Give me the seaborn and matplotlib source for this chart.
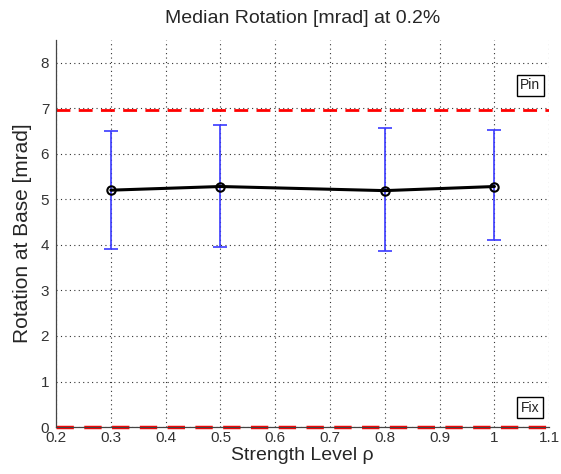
import matplotlib
matplotlib.use("Agg")
import matplotlib.pyplot as plt
import seaborn as sns
import pandas as pd

strength = [0.3, 0.5, 0.8, 1.0]
median_rot = [5.20, 5.28, 5.19, 5.28]
upper = [6.49, 6.64, 6.56, 6.51]
lower = [3.90, 3.95, 3.86, 4.10]
pin_level = 6.96
fix_level = 0.0
xticks = [0.2, 0.3, 0.4, 0.5, 0.6, 0.7, 0.8, 0.9, 1, 1.1]
xticklabels = ["0.2", "0.3", "0.4", "0.5", "0.6", "0.7", "0.8", "0.9", "1", "1.1"]
yticks = [0, 1, 2, 3, 4, 5, 6, 7, 8]

df = pd.DataFrame({"strength": strength, "median": median_rot})

sns.set_style("white")
plt.rcParams['font.family'] = ['Liberation Sans', 'DejaVu Sans']

fig = plt.figure(figsize=(5.61, 4.74), dpi=100)
ax = fig.add_axes([0.1, 0.099, 0.879, 0.817])

ax.axhline(pin_level, color="red", ls=(0, (5, 3)), lw=2, zorder=2)
ax.axhline(fix_level, color="red", ls=(0, (5, 3)), lw=2.5, zorder=2, clip_on=False)

yerr = [[m - l for m, l in zip(median_rot, lower)], [u - m for m, u in zip(median_rot, upper)]]
ax.errorbar(strength, median_rot, yerr=yerr, fmt="none", ecolor="#3a3aff", elinewidth=1.2,
            capsize=5, capthick=1.2, zorder=3)

sns.lineplot(data=df, x="strength", y="median", ax=ax, color="black", lw=2.2,
             marker="o", markersize=6, markerfacecolor="none", markeredgecolor="black",
             markeredgewidth=1.5, zorder=4)

ax.set_xlim(0.2, 1.1)
ax.set_ylim(0, 8.5)
ax.set_xticks(xticks)
ax.set_xticklabels(xticklabels)
ax.set_yticks(yticks)
ax.grid(True, ls=(0, (1, 3)), color="#333333", lw=0.8)
ax.tick_params(direction="in", length=4, labelsize=11, colors="#333333", pad=3)
ax.tick_params(axis="y", pad=5)
ax.spines["top"].set_visible(False)
ax.spines["right"].set_visible(False)
for s in ("left", "bottom"):
    ax.spines[s].set_color("#444444")
    ax.spines[s].set_linewidth(0.9)

ax.set_title("Median Rotation [mrad] at 0.2%", fontsize=14, pad=12)
ax.set_xlabel("Strength Level ρ", fontsize=14, labelpad=1)
ax.set_ylabel("Rotation at Base [mrad]", fontsize=15, labelpad=6)

box = dict(boxstyle="square,pad=0.25", fc="white", ec="black", lw=1)
ax.text(1.065, 7.5, "Pin", ha="center", va="center", fontsize=10, bbox=box, color="#222222")
ax.text(1.065, 0.42, "Fix", ha="center", va="center", fontsize=10, bbox=box, color="#222222")

fig.savefig("out.png", dpi=100)
